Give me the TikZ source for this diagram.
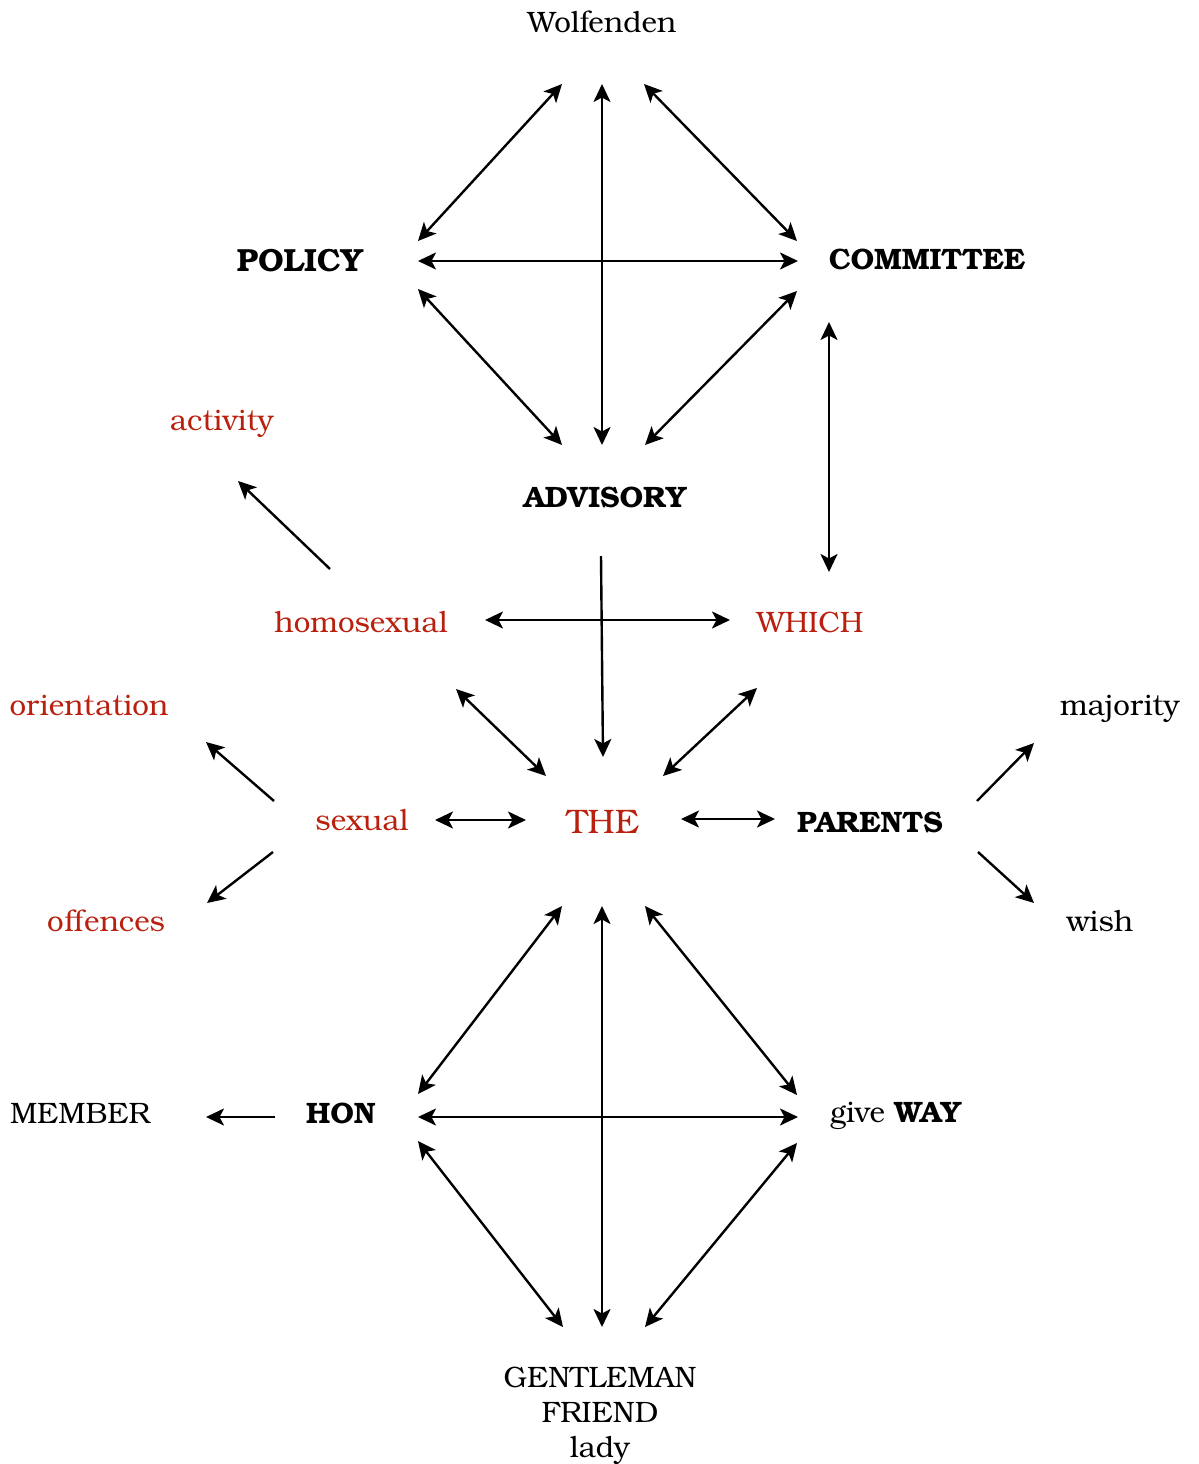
\documentclass[tikz,border=0pt]{standalone}
\usepackage{fontspec}
\setmainfont{TeX Gyre Bonum}
\usetikzlibrary{arrows.meta}
\definecolor{wordred}{RGB}{185,32,14}
\tikzset{
  tip/.tip={Stealth[length=18pt,width=17pt,inset=4.5pt]},
  link/.style={line width=2.4pt,tip-tip},
  oneway/.style={line width=2.4pt,-tip},
  word/.style={inner sep=0pt,font=\fontsize{29.5}{35}\selectfont},
  keyword/.style={inner sep=0pt,font=\fontsize{29.5}{35}\selectfont\bfseries},
  hot/.style={word,text=wordred},
  big/.style={inner sep=0pt,font=\fontsize{34}{40}\selectfont,text=wordred},
}
\begin{document}
\begin{tikzpicture}[x=1pt,y=-1pt]
\useasboundingbox (0,0) rectangle (1199,1464);
% words
\node[word] (wolf) at (602,22) {Wolfenden};
\node[keyword,font=\fontsize{32}{38}\selectfont\bfseries] (policy) at (300,261) {POLICY};
\node[keyword] (committee) at (927,259) {COMMITTEE};
\node[keyword] (advisory) at (605,497) {ADVISORY};
\node[hot] (activity) at (222,424) {activity};
\node[hot] (homo) at (361,622) {homosexual};
\node[hot] (which) at (810,622) {WHICH};
\node[hot] (orient) at (89,705) {orientation};
\node[word] (major) at (1120,709) {majority};
\node[hot] (sexual) at (362,820) {sexual};
\node[big] (the) at (603,822) {THE};
\node[keyword] (parents) at (870,822) {PARENTS};
\node[hot] (offences) at (106,921) {offences};
\node[word] (wish) at (1100,921) {wish};
\node[word] (member) at (80,1113) {MEMBER};
\node[keyword] (hon) at (341,1113) {HON};
\node[word] (giveway) at (896,1116) {give \textbf{WAY}};
\node[word,align=center,font=\fontsize{29.5}{35}\selectfont] (gent) at (600,1416) {GENTLEMAN\\FRIEND\\lady};
% upper diamond
\draw[link] ([shift={(-40,62)}]wolf.center) -- ([shift={(118,-20)}]policy.center);
\draw[link] ([shift={(0,62)}]wolf.center) -- ([shift={(-3,-52)}]advisory.center);
\draw[link] ([shift={(42,62)}]wolf.center) -- ([shift={(-130,-18)}]committee.center);
\draw[link] ([shift={(118,0)}]policy.center) -- ([shift={(-129,2)}]committee.center);
\draw[link] ([shift={(118,28)}]policy.center) -- ([shift={(-43,-52)}]advisory.center);
\draw[link] ([shift={(-130,32)}]committee.center) -- ([shift={(40,-52)}]advisory.center);
\draw[link] ([shift={(-98,63)}]committee.center) -- ([shift={(19,-50)}]which.center);
% middle
\draw[oneway] ([shift={(-31,-53)}]homo.center) -- ([shift={(16,57)}]activity.center);
\draw[oneway] ([shift={(-4,59)}]advisory.center) -- ([shift={(0,-65)}]the.center);
\draw[link] ([shift={(124,-2)}]homo.center) -- ([shift={(-80,-2)}]which.center);
\draw[link] ([shift={(95,67)}]homo.center) -- ([shift={(-57,-46)}]the.center);
\draw[link] ([shift={(-53,66)}]which.center) -- ([shift={(60,-46)}]the.center);
\draw[oneway] ([shift={(-88,-19)}]sexual.center) -- ([shift={(117,37)}]orient.center);
\draw[oneway] ([shift={(-89,32)}]sexual.center) -- ([shift={(101,-18)}]offences.center);
\draw[link] ([shift={(73,0)}]sexual.center) -- ([shift={(-77,-2)}]the.center);
\draw[link] ([shift={(78,-3)}]the.center) -- ([shift={(-95,-3)}]parents.center);
\draw[oneway] ([shift={(107,-21)}]parents.center) -- ([shift={(-86,34)}]major.center);
\draw[oneway] ([shift={(108,30)}]parents.center) -- ([shift={(-66,-18)}]wish.center);
% lower diamond
\draw[link] ([shift={(-41,84)}]the.center) -- ([shift={(77,-19)}]hon.center);
\draw[link] ([shift={(-1,84)}]the.center) -- ([shift={(2,-89)}]gent.center);
\draw[link] ([shift={(42,84)}]the.center) -- ([shift={(-99,-21)}]giveway.center);
\draw[link] ([shift={(77,4)}]hon.center) -- ([shift={(-98,1)}]giveway.center);
\draw[link] ([shift={(77,28)}]hon.center) -- ([shift={(-37,-89)}]gent.center);
\draw[link] ([shift={(-99,27)}]giveway.center) -- ([shift={(45,-89)}]gent.center);
\draw[oneway] ([shift={(-66,4)}]hon.center) -- ([shift={(126,4)}]member.center);
\end{tikzpicture}
\end{document}
